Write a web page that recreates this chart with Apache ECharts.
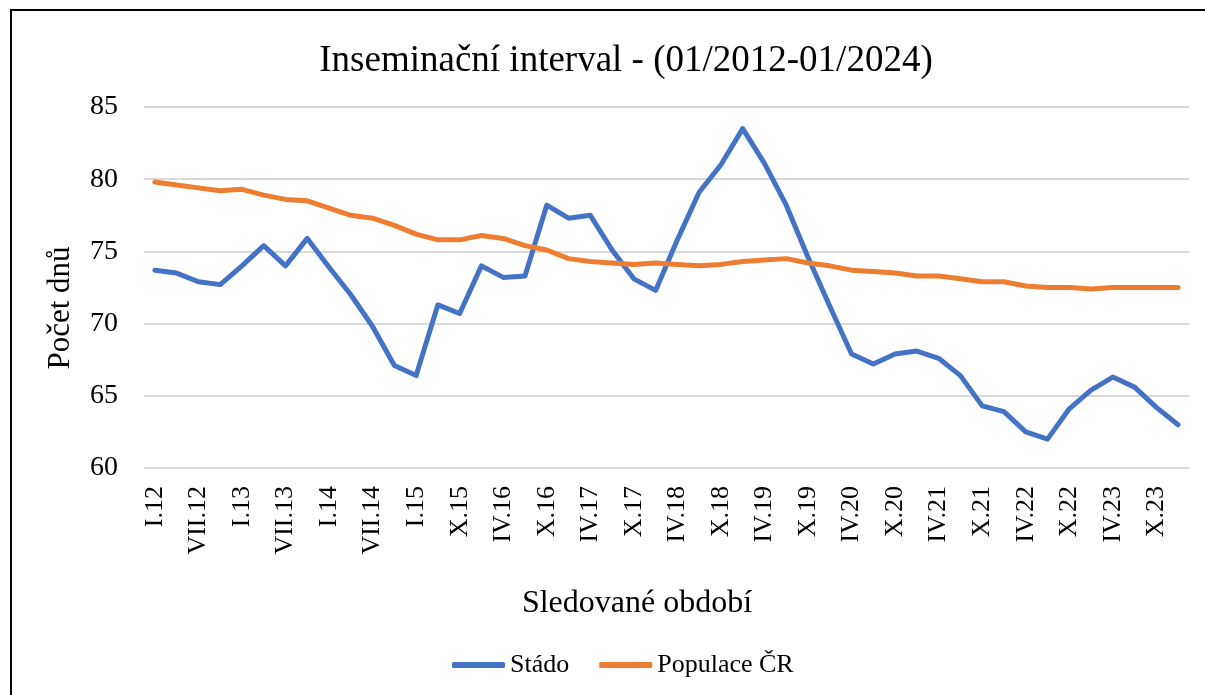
<!DOCTYPE html>
<html>
<head>
<meta charset="utf-8">
<script src="https://cdn.jsdelivr.net/npm/echarts@6/dist/echarts.min.js"></script>
<style>
html,body{margin:0;padding:0;background:#fff;}
#chart{width:1205px;height:695px;}
</style>
</head>
<body>
<div id="chart"></div>
<script>
const categories = ['I.12','IV.12','VII.12','X.12','I.13','IV.13','VII.13','X.13','I.14','IV.14','VII.14','X.14','I.15','VII.15','X.15','I.16','IV.16','VII.16','X.16','I.17','IV.17','VII.17','X.17','I.18','IV.18','VII.18','X.18','I.19','IV.19','VII.19','X.19','I.20','IV.20','VII.20','X.20','I.21','IV.21','VII.21','X.21','I.22','IV.22','VII.22','X.22','I.23','IV.23','VII.23','X.23','I.24'];
const stado = [73.7,73.5,72.9,72.7,74.0,75.4,74.0,75.9,73.9,72.0,69.8,67.1,66.4,71.3,70.7,74.0,73.2,73.3,78.2,77.3,77.5,75.1,73.1,72.3,75.8,79.1,81.0,83.5,81.1,78.2,74.6,71.2,67.9,67.2,67.9,68.1,67.6,66.4,64.3,63.9,62.5,62.0,64.1,65.4,66.3,65.6,64.2,63.0];
const populace = [79.8,79.6,79.4,79.2,79.3,78.9,78.6,78.5,78.0,77.5,77.3,76.8,76.2,75.8,75.8,76.1,75.9,75.4,75.1,74.5,74.3,74.2,74.1,74.2,74.1,74.0,74.1,74.3,74.4,74.5,74.2,74.0,73.7,73.6,73.5,73.3,73.3,73.1,72.9,72.9,72.6,72.5,72.5,72.4,72.5,72.5,72.5,72.5];
const titleText = 'Inseminační interval - (01/2012-01/2024)';
const xTitle = 'Sledované období';
const yTitle = 'Počet dnů';
const seriesNames = ['Stádo','Populace ČR'];

const FONT = "'Liberation Serif','Times New Roman',serif";
const chart = echarts.init(document.getElementById('chart'));
chart.setOption({
  animation:false,
  backgroundColor:'#ffffff',
  grid:{left:144,right:16,top:107,bottom:227,containLabel:false},
  graphic:[
    {type:'rect',shape:{x:11,y:10,width:1400,height:900},style:{fill:'none',stroke:'#000',lineWidth:2},silent:true},
    {type:'text',x:626,y:61,style:{text:titleText,font:'37px '+FONT,fill:'#000',align:'center',verticalAlign:'middle'}},
    {type:'text',x:637,y:604,style:{text:xTitle,font:'32px '+FONT,fill:'#000',align:'center',verticalAlign:'middle'}},
    {type:'text',x:61,y:308,rotation:Math.PI/2,style:{text:yTitle,font:'31px '+FONT,fill:'#000',align:'center',verticalAlign:'middle'}}
  ],
  legend:{
    left:447,top:647,itemWidth:53,itemHeight:6,itemGap:30,
    icon:'roundRect',
    textStyle:{fontFamily:FONT,fontSize:26,color:'#000'},
    data:seriesNames
  },
  xAxis:{
    type:'category',data:categories,boundaryGap:true,
    axisLine:{show:false},axisTick:{show:false},
    axisLabel:{interval:1,rotate:90,margin:18,fontFamily:FONT,fontSize:26,color:'#000'}
  },
  yAxis:{
    type:'value',min:60,max:85,interval:5,
    axisLine:{show:false},axisTick:{show:false},
    axisLabel:{margin:26,fontFamily:FONT,fontSize:28,color:'#000'},
    splitLine:{lineStyle:{color:'#d9d9d9',width:2}}
  },
  series:[
    {name:seriesNames[0],type:'line',data:stado,symbol:'none',lineStyle:{color:'#4472C4',width:5,cap:'round',join:'round'},itemStyle:{color:'#4472C4'}},
    {name:seriesNames[1],type:'line',data:populace,symbol:'none',lineStyle:{color:'#ED7D31',width:5,cap:'round',join:'round'},itemStyle:{color:'#ED7D31'}}
  ]
});
</script>
</body>
</html>
